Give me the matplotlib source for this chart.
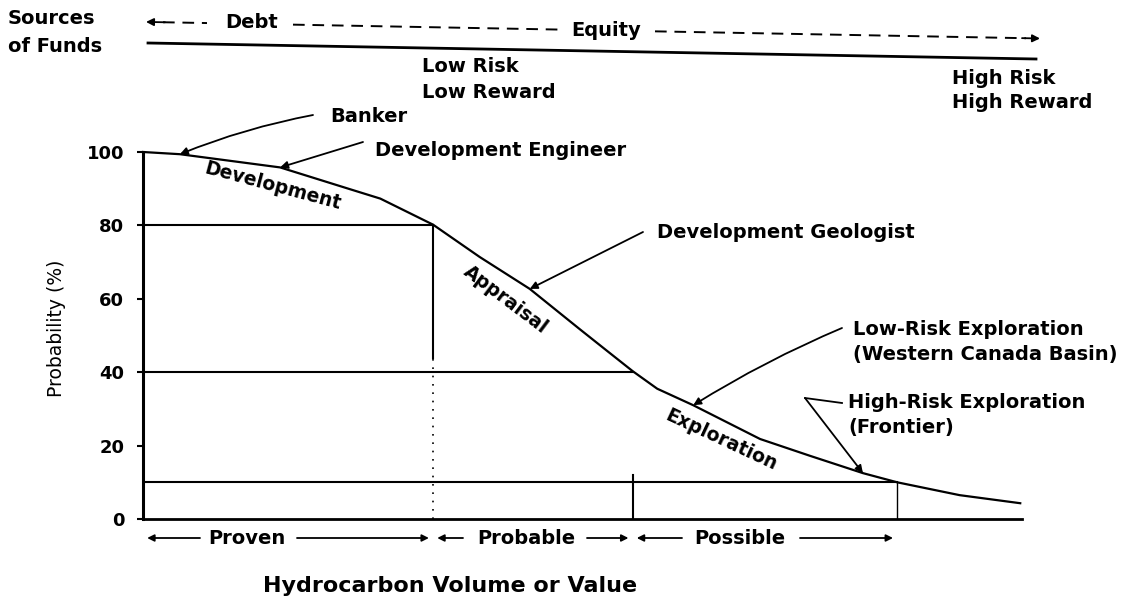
import matplotlib
matplotlib.use('Agg')
import matplotlib.pyplot as plt
from matplotlib.transforms import blended_transform_factory

plt.rcParams['font.family'] = ['DejaVu Sans']

# ---------------- data ----------------
curve_x = [0, 4.2, 15.6, 23.5, 27.0, 33.0, 38.3, 44.0, 49.7, 52.8, 55.7,
           58.5, 62.6, 70.2, 75.9, 81.9, 85.8, 92.9, 99.8]
curve_y = [100, 99.4, 95.8, 89.9, 87.3, 80.2, 71.4, 62.7, 51.7, 45.8, 40.3,
           35.5, 31.0, 21.8, 17.2, 12.5, 10.0, 6.5, 4.3]

ref_levels = [80, 40, 10]          # horizontal probability lines
ref_ends = [33.0, 55.7, 85.8]      # where they meet the curve
divider_x = [33.0, 55.7, 85.8]     # vertical dividers
divider_top = [80, 12, 10]
divider_solid_from = [44, 0, 0]

y_ticks = [0, 20, 40, 60, 80, 100]

zones = ['Proven', 'Probable', 'Possible']
zone_bounds = [0, 33.0, 55.7, 85.8]

roles = ['Banker', 'Development Engineer', 'Development Geologist',
         'Low-Risk Exploration\n(Western Canada Basin)',
         'High-Risk Exploration\n(Frontier)']
role_targets = [1, 2, 7, 12, 15]   # indices into the curve

stages = ['Development', 'Appraisal', 'Exploration']

# ---------------- figure ----------------
W, H = 1143, 600
fig = plt.figure(figsize=(W / 100, H / 100), dpi=100)
L, R, T, B = 143, 1022, 152, 519
ax = fig.add_axes([L / W, 1 - B / H, (R - L) / W, (B - T) / H])
ax.set_xlim(0, 100)
ax.set_ylim(0, 100)
for s in ['top', 'right']:
    ax.spines[s].set_visible(False)
ax.spines['left'].set_linewidth(2.2)
ax.spines['bottom'].set_linewidth(2.0)
ax.set_xticks([])
ax.set_yticks(y_ticks)
ax.tick_params(axis='y', length=4.5, width=1.5, pad=9, labelsize=13)
for lab in ax.get_yticklabels():
    lab.set_fontweight('bold')

ax.plot(curve_x, curve_y, color='black', lw=1.6, clip_on=False, zorder=3)
for lev, xe in zip(ref_levels, ref_ends):
    ax.plot([0, xe], [lev, lev], color='black', lw=1.5)
for xd, top, sf in zip(divider_x, divider_top, divider_solid_from):
    ax.plot([xd, xd], [sf, top], color='black', lw=1.5 if top > 10 else 1.0)
    if sf > 0:
        ax.plot([xd, xd], [0, sf], color='black', lw=1.2, ls=(0, (1, 4)))

# overlay in pixel coordinates for annotations
ov = fig.add_axes([0, 0, 1, 1], zorder=5)
ov.set_xlim(0, W)
ov.set_ylim(H, 0)
ov.axis('off')

def txt(x, y, s, size=14, weight='bold', **kw):
    ov.text(x, y, s, fontsize=size, fontweight=weight, va='center', ha=kw.pop('ha', 'left'), **kw)

# ---- Sources of funds header ----
txt(8, 19, 'Sources')
txt(8, 46, 'of Funds')
txt(225, 23, 'Debt')
txt(571, 30, 'Equity')

def slant(x):
    return 22 + 0.0185 * (x - 150)

dash = dict(color='black', lw=1.4, ls=(0, (6, 4)))
ov.plot([163, 207], [slant(163), slant(207)], **dash)
ov.plot([293, 560], [slant(293), slant(560)], **dash)
ov.plot([655, 1026], [slant(655), slant(1026)], **dash)
head = dict(arrowstyle='-|>', color='black', lw=1.3, mutation_scale=11, shrinkA=0, shrinkB=0)
ov.annotate('', xy=(146, slant(146)), xytext=(165, slant(165)), arrowprops=head)
ov.annotate('', xy=(1040, slant(1040)), xytext=(1022, slant(1022)), arrowprops=head)
ov.plot([148, 1036], [43, 59], color='black', lw=2.0)

txt(422, 67, 'Low Risk')
txt(422, 93, 'Low Reward')
txt(952, 78, 'High Risk')
txt(952, 102, 'High Reward')

# ---- role labels with arrows to the curve ----
role_text_pos = [(330, 117), (375, 150), (657, 232), (853, 342), (848, 415)]
role_arrow_from = [(313, 115), (363, 142), (643, 232), (842, 328), (805, 398)]
role_rad = [0.05, 0.0, 0.0, 0.04, 0.0]
for name, (tx, ty), (fx, fy), idx, rad in zip(roles, role_text_pos, role_arrow_from,
                                               role_targets, role_rad):
    ov.text(tx, ty, name, fontsize=14, fontweight='bold', va='center', ha='left',
            linespacing=1.35)
    ax.annotate('', xy=(curve_x[idx], curve_y[idx]), xycoords='data',
                xytext=(fx, fy), textcoords=ov.transData,
                arrowprops=dict(arrowstyle='-|>', color='black', lw=1.3,
                                mutation_scale=11, shrinkA=0, shrinkB=0,
                                connectionstyle=f'arc3,rad={rad}'))
ov.plot([842, 805], [403, 398], color='black', lw=1.3)

# ---- stage labels along the curve ----
stage_pos = [(273, 186, -15), (506, 300, -37), (721, 440, -25)]
for name, (sx, sy, rot) in zip(stages, stage_pos):
    ov.text(sx, sy, name, fontsize=13.5, fontweight='bold', rotation=rot,
            ha='center', va='center', rotation_mode='anchor')

# ---- zones under the x axis ----
trans = blended_transform_factory(ax.transData, ov.transData)
zone_text_x = [247, 526, 740]
zone_y = 538
zone_gaps = [(200, 297), (463, 587), (682, 800)]
for i, (name, zx, (g0, g1)) in enumerate(zip(zones, zone_text_x, zone_gaps)):
    ov.text(zx, zone_y, name, fontsize=14, fontweight='bold', ha='center', va='center')
    for start, end in [(g0, zone_bounds[i]), (g1, zone_bounds[i + 1])]:
        ax.annotate('', xy=(end, zone_y), xycoords=trans,
                    xytext=(start, zone_y), textcoords=ov.transData,
                    arrowprops=dict(arrowstyle='-|>', color='black', lw=1.3,
                                    mutation_scale=10, shrinkA=0, shrinkB=3))

ov.text(263, 586, 'Hydrocarbon Volume or Value', fontsize=16, fontweight='bold',
        ha='left', va='center')
ov.text(57, 328, 'Probability (%)', fontsize=13.5, rotation=90, ha='center', va='center')

fig.savefig('out.png', dpi=100)
